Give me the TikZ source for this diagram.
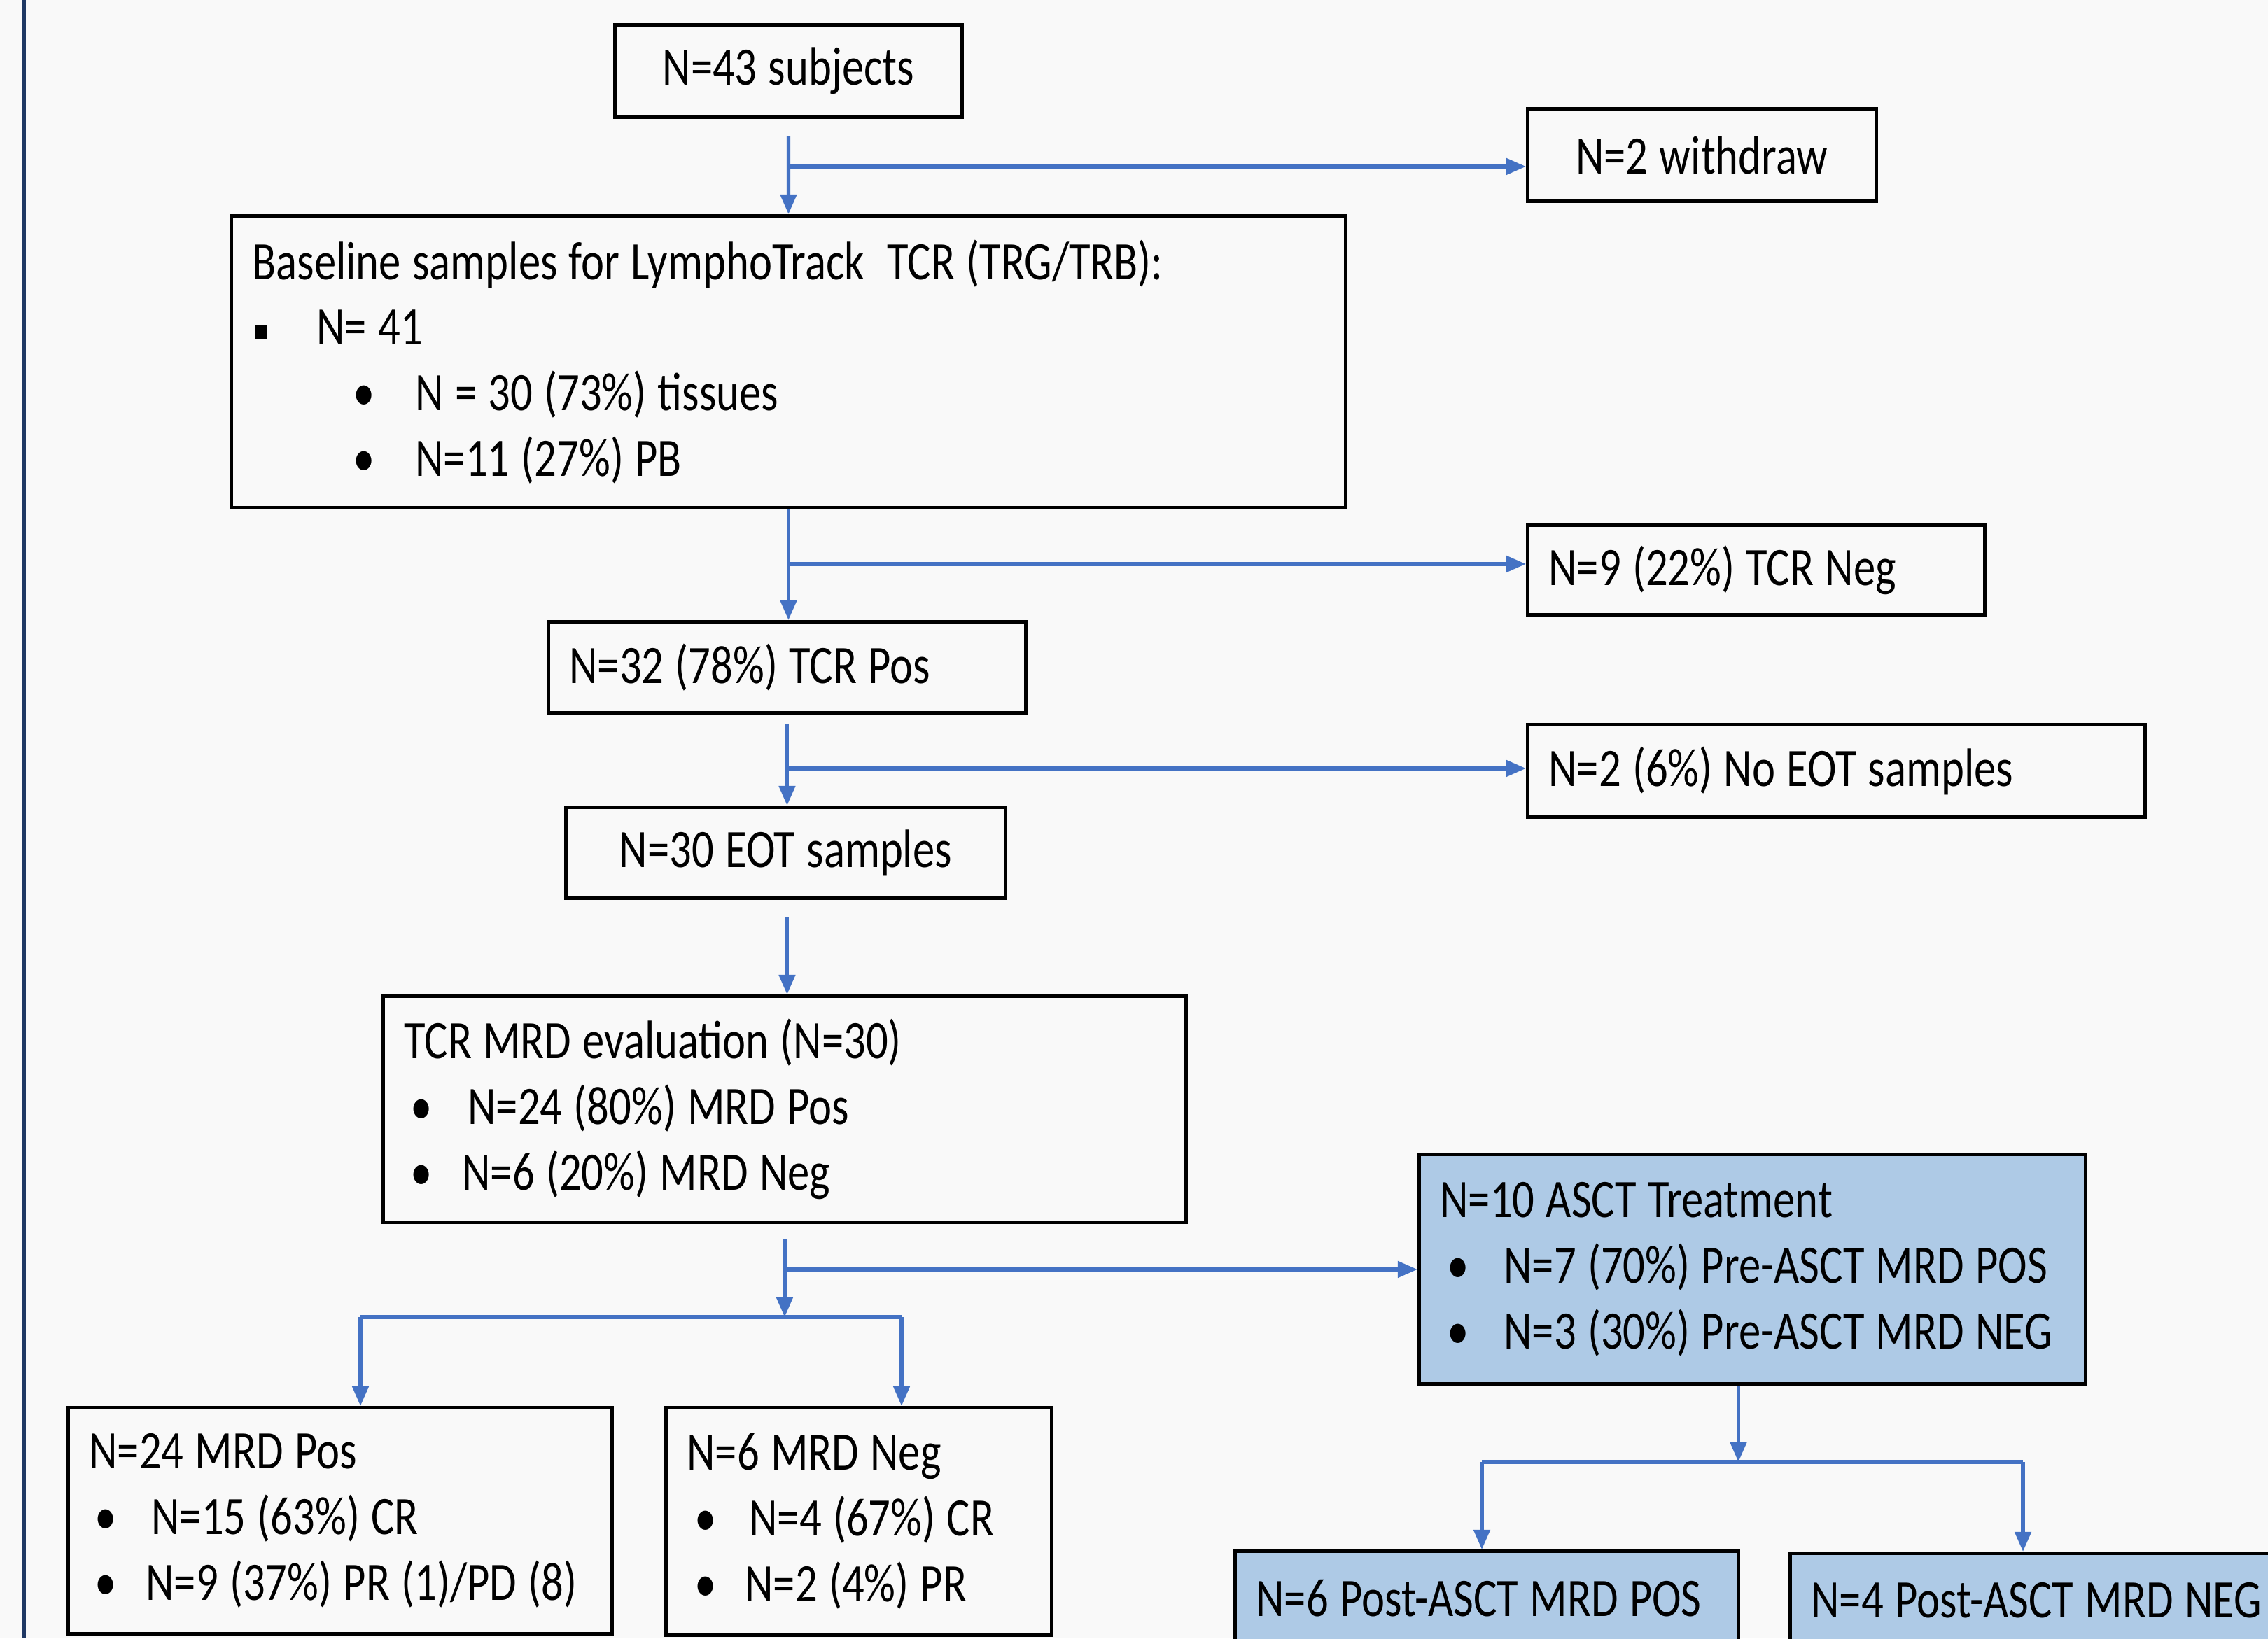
\documentclass[tikz,border=0pt]{standalone}
\usepackage{fontspec}
\setmainfont{Carlito}[FakeStretch=0.81, WordSpace=1.15]
\usetikzlibrary{arrows.meta}

\definecolor{azulSeta}{RGB}{68,114,196}
\definecolor{azulCaixa}{RGB}{174,202,230}
\definecolor{fundo}{RGB}{249,249,249}
\definecolor{borda}{RGB}{31,56,100}

% topico com marcador redondo
\newcommand{\topico}[3]{\hspace*{#1}\makebox[#2][l]{\textbullet}#3}

\begin{document}
\begin{tikzpicture}[
    caixa/.style={draw=black, line width=1.4pt, fill=fundo, anchor=north west,
        inner xsep=0.3cm, inner ysep=0pt, font=\fontsize{22}{26.7}\selectfont},
    caixaAzul/.style={caixa, fill=azulCaixa},
    seta/.style={draw=azulSeta, line width=1.5pt, -{Triangle[length=8pt, width=6.5pt]}},
    ramo/.style={draw=azulSeta, line width=1.5pt}]

        \useasboundingbox (0,0) rectangle (32.4,-23.41);
        \clip (0,0) rectangle (32.4,-23.41);
        \fill[fundo] (0,0) rectangle (32.4,-23.41);
        \draw[borda, line width=0.06cm] (0.34,0) -- (0.34,-23.41);

        % caixas
        \node[caixa, minimum width=4.96cm, minimum height=1.32cm, text width=4.36cm, align=flush center]
            (sujeitos) at (8.76,-0.33) {N=43 subjects};
        \node[caixa, minimum width=4.98cm, minimum height=1.32cm, text width=4.38cm, align=flush center]
            (retirados) at (21.80,-1.53) {N=2 withdraw};
        \node[caixa, minimum width=15.92cm, minimum height=4.17cm, text width=15.32cm, align=flush left]
            (basal) at (3.28,-3.06) {Baseline samples for LymphoTrack\ \ TCR (TRG/TRB):\\
            \hspace*{0.05cm}\makebox[0.87cm][l]{\rule[0.12em]{0.16cm}{0.2cm}}N= 41\\
            \topico{1.44cm}{0.89cm}{N = 30 (73\%) tissues}\\
            \topico{1.44cm}{0.89cm}{N=11 (27\%) PB}};
        \node[caixa, minimum width=6.53cm, minimum height=1.28cm, text width=5.93cm, align=flush left]
            (tcrNeg) at (21.80,-7.48) {N=9 (22\%) TCR Neg};
        \node[caixa, minimum width=6.82cm, minimum height=1.30cm, text width=6.22cm, align=flush left]
            (tcrPos) at (7.81,-8.86) {N=32 (78\%) TCR Pos};
        \node[caixa, minimum width=8.82cm, minimum height=1.32cm, text width=8.22cm, align=flush left]
            (semEOT) at (21.80,-10.33) {N=2 (6\%) No EOT samples};
        \node[caixa, minimum width=6.28cm, minimum height=1.30cm, text width=5.68cm, align=flush center]
            (amostrasEOT) at (8.06,-11.51) {N=30 EOT samples};
        \node[caixa, minimum width=11.47cm, minimum height=3.23cm, text width=10.87cm, align=flush left]
            (avaliacaoMRD) at (5.45,-14.21) {TCR MRD evaluation (N=30)\\
            \topico{0.09cm}{0.82cm}{N=24 (80\%) MRD Pos}\\
            \topico{0.09cm}{0.74cm}{N=6 (20\%) MRD Neg}};
        \node[caixaAzul, minimum width=9.52cm, minimum height=3.28cm, text width=8.92cm, align=flush left]
            (asct) at (20.25,-16.47) {N=10 ASCT Treatment\\
            \topico{0.10cm}{0.81cm}{N=7 (70\%) Pre-ASCT MRD POS}\\
            \topico{0.10cm}{0.81cm}{N=3 (30\%) Pre-ASCT MRD NEG}};
        \node[caixa, minimum width=7.77cm, minimum height=3.23cm, text width=7.17cm, align=flush left]
            (mrdPos) at (0.95,-20.09) {N=24 MRD Pos\\
            \topico{0.08cm}{0.81cm}{N=15 (63\%) CR}\\
            \topico{0.08cm}{0.73cm}{N=9 (37\%) PR (1)/PD (8)}};
        \node[caixa, minimum width=5.51cm, minimum height=3.25cm, text width=4.91cm, align=flush left]
            (mrdNeg) at (9.49,-20.09) {N=6 MRD Neg\\
            \topico{0.11cm}{0.78cm}{N=4 (67\%) CR}\\
            \topico{0.11cm}{0.72cm}{N=2 (4\%) PR}};
        \node[caixaAzul, minimum width=7.19cm, minimum height=1.34cm, text width=6.59cm, align=flush left]
            (posAsctPos) at (17.62,-22.14) {N=6 Post-ASCT MRD POS};
        \node[caixaAzul, minimum width=7.19cm, minimum height=1.34cm, text width=6.59cm, align=flush left]
            (posAsctNeg) at (25.55,-22.17) {N=4 Post-ASCT MRD NEG};

        % sujeitos -> basal, retirados
        \coordinate (s1) at ([yshift=-0.25cm]sujeitos.south);
        \coordinate (r1) at ([yshift=-0.68cm]sujeitos.south);
        \draw[seta] (s1) -- (basal.north);
        \draw[seta] (r1) -- (r1 -| retirados.west);

        % basal -> tcrPos, tcrNeg
        \coordinate (r2) at ([yshift=-0.78cm]basal.south);
        \draw[seta] (basal.south) -- (basal.south |- tcrPos.north);
        \draw[seta] (r2) -- (r2 -| tcrNeg.west);

        % tcrPos -> amostrasEOT, semEOT
        \coordinate (s3) at ([yshift=-0.13cm]tcrPos.south);
        \coordinate (r3) at ([yshift=-0.77cm]tcrPos.south);
        \draw[seta] (s3) -- (s3 |- amostrasEOT.north);
        \draw[seta] (r3) -- (r3 -| semEOT.west);

        % amostrasEOT -> avaliacaoMRD
        \coordinate (s4) at ([xshift=0.02cm, yshift=-0.25cm]amostrasEOT.south);
        \draw[seta] (s4) -- (s4 |- avaliacaoMRD.north);

        % avaliacaoMRD -> divisao, asct
        \coordinate (s5) at ([yshift=-0.22cm]avaliacaoMRD.south);
        \coordinate (r5) at ([yshift=-0.65cm]avaliacaoMRD.south);
        \coordinate (d0) at (s5 |- 0,-18.82);
        \coordinate (d1) at (5.15,-18.82);
        \coordinate (d2) at (12.88,-18.82);
        \draw[seta] (s5) -- (d0);
        \draw[seta] (r5) -- (r5 -| asct.west);
        \draw[ramo] (d1) -- (d2);
        \draw[seta] (d1) -- (d1 |- mrdPos.north);
        \draw[seta] (d2) -- (d2 |- mrdNeg.north);

        % asct -> pos-ASCT
        \coordinate (a0) at ([xshift=-0.2cm]asct.south);
        \coordinate (a1) at (a0 |- 0,-20.89);
        \coordinate (a2) at (21.17,-20.89);
        \coordinate (a3) at (28.90,-20.89);
        \draw[seta] (a0) -- (a1);
        \draw[ramo] (a2) -- (a3);
        \draw[seta] (a2) -- (a2 |- posAsctPos.north);
        \draw[seta] (a3) -- (a3 |- posAsctNeg.north);
    \end{tikzpicture}
\end{document}
